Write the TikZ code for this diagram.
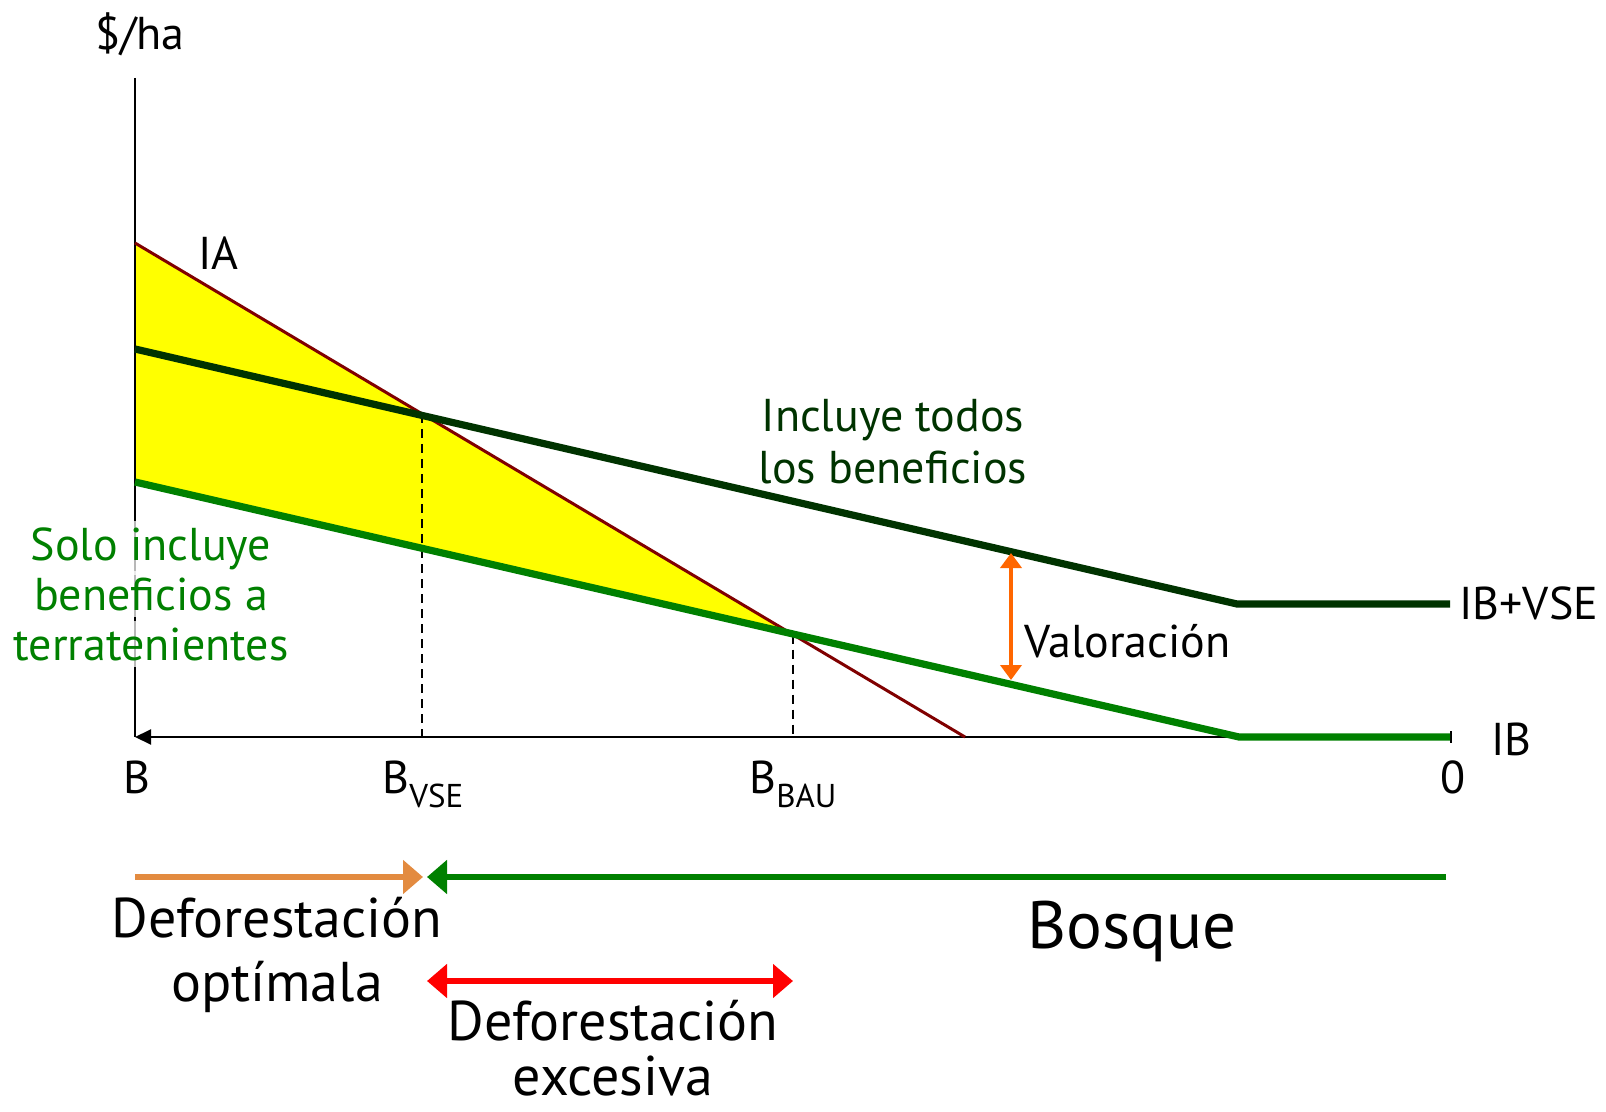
\documentclass[tikz,border=0pt]{standalone}
\usepackage{fontspec}
\setmainfont{PT Sans}
\usetikzlibrary{arrows.meta}

\definecolor{darkgr}{RGB}{0,51,0}
\definecolor{midgr}{RGB}{0,128,0}
\definecolor{iared}{RGB}{128,0,0}
\definecolor{valor}{RGB}{255,102,0}
\definecolor{optor}{RGB}{227,139,64}
\definecolor{exred}{RGB}{255,0,0}
\definecolor{fillyel}{RGB}{255,255,0}

\newcommand{\mysub}[1]{\raisebox{-7pt}{\fontsize{16.5}{16.5}\selectfont #1}}

\tikzset{
  lbl/.style={font=\fontsize{23}{25.5}\selectfont, inner sep=0pt, anchor=base},
  biglbl/.style={font=\fontsize{28}{31}\selectfont, inner sep=0pt, anchor=base},
  hugelbl/.style={font=\fontsize{33.5}{38}\selectfont, inner sep=0pt, anchor=base},
  axisline/.style={line width=1pt, black},
  guide/.style={line width=1pt, black, dash pattern=on 4.5pt off 3pt},
  ialine/.style={line width=1.5pt, iared},
  vseline/.style={line width=3.6pt, darkgr},
  ibline/.style={line width=3.6pt, midgr},
  valarrow/.style={line width=2pt, valor, {Triangle[length=7.5pt,width=10.5pt]}-{Triangle[length=7.5pt,width=10.5pt]}},
  optarrow/.style={line width=3pt, optor, -{Triangle[length=10pt,width=16.5pt]}},
  bosarrow/.style={line width=3.2pt, midgr, -{Triangle[length=10pt,width=16.5pt]}},
  exarrow/.style={line width=3.4pt, exred, {Triangle[length=10pt,width=16.5pt]}-{Triangle[length=10pt,width=16.5pt]}},
}

\begin{document}
\begin{tikzpicture}[x=0.5pt, y=-0.5pt]
\useasboundingbox (0,0) rectangle (1606,1112);

% key points
\coordinate (O) at (135,737);
\coordinate (Ytop) at (135,78);
\coordinate (Xend) at (1452,737);
\coordinate (IAs) at (135,243);
\coordinate (IAe) at (965,737);
\coordinate (VSEs) at (135,349);
\coordinate (VSEk) at (1237,604);
\coordinate (VSEe) at (1450,604);
\coordinate (IBs) at (135,482);
\coordinate (IBk) at (1239,737);
\coordinate (IBe) at (1450,737);
\coordinate (Pvse) at (422,414);
\coordinate (Qvse) at (422,737);
\coordinate (Pbau) at (793,634.5);
\coordinate (Qbau) at (793,737);
\coordinate (Vtop) at (1011,553);
\coordinate (Vbot) at (1011,680);
\coordinate (oa1) at (135,877);
\coordinate (oa2) at (423,877);
\coordinate (ga1) at (1446,877);
\coordinate (ga2) at (427,877);
\coordinate (ra1) at (427,981);
\coordinate (ra2) at (793,981);

% yellow region
\fill[fillyel] (IAs) -- (Pbau) -- (IBs) -- cycle;

% axes
\draw[axisline] (Ytop) -- (O);
\draw[axisline, {Bar[width=6pt]}-{Triangle[length=8pt,width=7.5pt]}] (Xend) -- (O);

% label for landowner benefits (semi-transparent backing)
\node[lbl, midgr, fill=white, fill opacity=0.72, text opacity=1, inner xsep=2pt, inner ysep=3pt] (solo1) at (151,560) {Solo incluye};
\node[lbl, midgr, fill=white, fill opacity=0.72, text opacity=1, inner xsep=2pt, inner ysep=3pt] (solo2) at (151,610) {beneficios a};
\node[lbl, midgr, fill=white, fill opacity=0.72, text opacity=1, inner xsep=2pt, inner ysep=3pt] (solo3) at (151,660) {terratenientes};

% guides
\draw[guide] (Pvse) -- (Qvse);
\draw[guide] (Pbau) -- (Qbau);

% curves
\draw[ialine] (IAs) -- (IAe);
\draw[vseline] (VSEs) -- (VSEk) -- (VSEe);
\draw[ibline] (IBs) -- (IBk) -- (IBe);

% valuation arrow
\draw[valarrow] (Vtop) -- (Vbot);

% labels
\node[lbl] (yl) at (140,50) {\$/ha};
\node[lbl, anchor=base west] (ial) at (198,270) {IA};
\node[lbl, darkgr] (inc1) at (893,432) {Incluye todos};
\node[lbl, darkgr] (inc2) at (893,483) {los beneficios};
\node[lbl, anchor=base west] (vall) at (1024,657) {Valoración};
\node[lbl, anchor=base west] (ibvse) at (1459,619) {IB+VSE};
\node[lbl, anchor=base west] (ibl) at (1491,755) {IB};
\node[lbl] (zero) at (1453,793) {0};
\node[lbl] (bl) at (137,793) {B};
\node[lbl] (bvse) at (423,793) {B\mysub{VSE}};
\node[lbl] (bbau) at (793,793) {B\mysub{BAU}};

% bottom arrows
\draw[optarrow] (oa1) -- (oa2);
\draw[bosarrow] (ga1) -- (ga2);
\draw[exarrow] (ra1) -- (ra2);

\node[biglbl] (def1) at (277,937) {Deforestación};
\node[biglbl] (def2) at (277,1001) {optímala};
\node[biglbl] (dex1) at (613,1040) {Deforestación};
\node[biglbl] (dex2) at (613,1095) {excesiva};
\node[hugelbl] (bos) at (1132,948) {Bosque};
\end{tikzpicture}
\end{document}
